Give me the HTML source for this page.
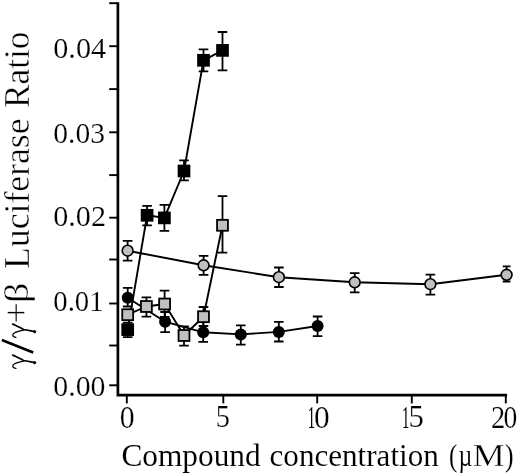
<!DOCTYPE html>
<html><head><meta charset="utf-8"><title>Chart</title>
<style>
html,body{margin:0;padding:0;background:#fff;}
body{width:520px;height:474px;position:relative;overflow:hidden;font-family:"Liberation Serif",serif;}
.t{font-family:"Liberation Serif",serif;fill:#000;font-kerning:none;stroke:#fff;stroke-width:0.45px;vector-effect:non-scaling-stroke;}
.a{stroke-width:0.1px;}
.n{stroke:none;}
.m{stroke-width:0.4px;}
.b{stroke-width:0.2px;}
svg{filter:grayscale(1) blur(0.35px);}
</style></head><body>
<svg width="520" height="474" viewBox="0 0 520 474" style="position:absolute;left:0;top:0">
<title>γ/γ+β Luciferase Ratio vs Compound concentration (µM)</title>
<rect width="520" height="474" fill="#fff"/>
<path d="M117.9 2.3V395.1H507.1" fill="none" stroke="#000" stroke-width="2.7" stroke-linejoin="miter"/>
<path d="M109.2 3.2H117.5" stroke="#000" stroke-width="1.9"/>
<path d="M109.2 46.2H117.5" stroke="#000" stroke-width="1.9"/>
<path d="M109.2 89.1H117.5" stroke="#000" stroke-width="1.9"/>
<path d="M109.2 132.3H117.5" stroke="#000" stroke-width="1.9"/>
<path d="M109.2 175.1H117.5" stroke="#000" stroke-width="1.9"/>
<path d="M109.2 217.7H117.5" stroke="#000" stroke-width="1.9"/>
<path d="M109.2 259.5H117.5" stroke="#000" stroke-width="1.9"/>
<path d="M109.2 303.5H117.5" stroke="#000" stroke-width="1.9"/>
<path d="M109.2 345.5H117.5" stroke="#000" stroke-width="1.9"/>
<path d="M109.2 385.3H117.5" stroke="#000" stroke-width="1.9"/>
<path d="M126.8 395V403.4" stroke="#000" stroke-width="1.9"/>
<path d="M223.3 395V403.4" stroke="#000" stroke-width="1.9"/>
<path d="M317.2 395V403.4" stroke="#000" stroke-width="1.9"/>
<path d="M411.8 395V403.4" stroke="#000" stroke-width="1.9"/>
<path d="M505.8 395V403.4" stroke="#000" stroke-width="1.9"/>
<text transform="matrix(0.94508 0 0 0.95241 53.248 58.168)" font-size="32" class="t b" >0.04</text>
<text transform="matrix(0.92283 0 0 0.95241 53.275 142.568)" font-size="32" class="t b" >0.03</text>
<text transform="matrix(0.94312 0 0 0.95241 53.251 226.268)" font-size="32" class="t b" >0.02</text>
<text transform="matrix(0.89861 0 0 0.95241 53.305 311.368)" font-size="32" class="t b" >0.01</text>
<text transform="matrix(0.93349 0 0 0.95241 53.262 395.768)" font-size="32" class="t b" >0.00</text>
<text transform="matrix(0.92903 0 0 0.95861 119.768 427.500)" font-size="32" class="t b" >0</text>
<text transform="matrix(0.88436 0 0 0.97340 215.856 427.496)" font-size="32" class="t b" >5</text>
<text transform="matrix(0.46158 0 0 0.97988 307.702 427.800)" font-size="32" class="t n" >1</text>
<text transform="matrix(0.98065 0 0 0.95861 314.105 427.500)" font-size="32" class="t b" >0</text>
<text transform="matrix(0.46158 0 0 0.97988 402.102 427.800)" font-size="32" class="t n" >1</text>
<text transform="matrix(0.96194 0 0 0.97340 408.511 427.496)" font-size="32" class="t b" >5</text>
<text transform="matrix(0.88867 0 0 0.97699 491.050 427.800)" font-size="32" class="t b" >2</text>
<text transform="matrix(0.86267 0 0 0.95861 503.549 427.500)" font-size="32" class="t b" >0</text>
<path d="M127.7 329.6 L147.1 215.3 L164.4 217.9 L184 171 L203.5 60.3 L222.5 50.4" fill="none" stroke="#000" stroke-width="1.9" stroke-linejoin="round"/>
<path d="M127.7 322.6V337.2M122.9 322.6h9.6M122.9 337.2h9.6" fill="none" stroke="#000" stroke-width="1.8"/>
<path d="M147.1 205.8V225.4M142.29999999999998 205.8h9.6M142.29999999999998 225.4h9.6" fill="none" stroke="#000" stroke-width="1.8"/>
<path d="M164.4 204.9V230.8M159.6 204.9h9.6M159.6 230.8h9.6" fill="none" stroke="#000" stroke-width="1.8"/>
<path d="M184 160.3V180.3M179.2 160.3h9.6M179.2 180.3h9.6" fill="none" stroke="#000" stroke-width="1.8"/>
<path d="M203.5 49.4V71.3M198.7 49.4h9.6M198.7 71.3h9.6" fill="none" stroke="#000" stroke-width="1.8"/>
<path d="M222.5 32V70.3M217.7 32h9.6M217.7 70.3h9.6" fill="none" stroke="#000" stroke-width="1.8"/>
<rect x="121.35" y="323.25" width="12.7" height="12.7" fill="#000"/>
<rect x="140.75" y="208.95" width="12.7" height="12.7" fill="#000"/>
<rect x="158.05" y="211.55" width="12.7" height="12.7" fill="#000"/>
<rect x="177.65" y="164.65" width="12.7" height="12.7" fill="#000"/>
<rect x="197.15" y="53.95" width="12.7" height="12.7" fill="#000"/>
<rect x="216.15" y="44.05" width="12.7" height="12.7" fill="#000"/>
<path d="M127.7 297.7 L165.1 321.7 L203.2 332.3 L240.8 334.4 L278.8 331.9 L317.6 326" fill="none" stroke="#000" stroke-width="1.9" stroke-linejoin="round"/>
<path d="M127.7 287.8V306.5M122.9 287.8h9.6M122.9 306.5h9.6" fill="none" stroke="#000" stroke-width="1.8"/>
<path d="M165.1 312V332.1M160.29999999999998 312h9.6M160.29999999999998 332.1h9.6" fill="none" stroke="#000" stroke-width="1.8"/>
<path d="M203.2 322V341.8M198.39999999999998 322h9.6M198.39999999999998 341.8h9.6" fill="none" stroke="#000" stroke-width="1.8"/>
<path d="M240.8 325.3V344.6M236.0 325.3h9.6M236.0 344.6h9.6" fill="none" stroke="#000" stroke-width="1.8"/>
<path d="M278.8 321.8V341.5M274.0 321.8h9.6M274.0 341.5h9.6" fill="none" stroke="#000" stroke-width="1.8"/>
<path d="M317.6 316.5V336.1M312.8 316.5h9.6M312.8 336.1h9.6" fill="none" stroke="#000" stroke-width="1.8"/>
<circle cx="127.7" cy="297.7" r="6" fill="#000"/>
<circle cx="165.1" cy="321.7" r="6" fill="#000"/>
<circle cx="203.2" cy="332.3" r="6" fill="#000"/>
<circle cx="240.8" cy="334.4" r="6" fill="#000"/>
<circle cx="278.8" cy="331.9" r="6" fill="#000"/>
<circle cx="317.6" cy="326" r="6" fill="#000"/>
<path d="M127.7 314.7 L146.4 306.5 L164.6 304 L184 335.5 L203.5 316.7 L222.5 225.3" fill="none" stroke="#000" stroke-width="1.9" stroke-linejoin="round"/>
<path d="M146.4 297.4V316.6M141.6 297.4h9.6M141.6 316.6h9.6" fill="none" stroke="#000" stroke-width="1.8"/>
<path d="M164.6 290.7V317M159.79999999999998 290.7h9.6M159.79999999999998 317h9.6" fill="none" stroke="#000" stroke-width="1.8"/>
<path d="M184 326.4V345.6M179.2 326.4h9.6M179.2 345.6h9.6" fill="none" stroke="#000" stroke-width="1.8"/>
<path d="M203.5 307V326M198.7 307h9.6M198.7 326h9.6" fill="none" stroke="#000" stroke-width="1.8"/>
<path d="M222.5 196.1V252.7M217.7 196.1h9.6M217.7 252.7h9.6" fill="none" stroke="#000" stroke-width="1.8"/>
<rect x="122.25" y="309.25" width="10.9" height="10.9" fill="#c0c0c0" stroke="#000" stroke-width="1.8"/>
<rect x="140.95" y="301.05" width="10.9" height="10.9" fill="#c0c0c0" stroke="#000" stroke-width="1.8"/>
<rect x="159.15" y="298.55" width="10.9" height="10.9" fill="#c0c0c0" stroke="#000" stroke-width="1.8"/>
<rect x="178.55" y="330.05" width="10.9" height="10.9" fill="#c0c0c0" stroke="#000" stroke-width="1.8"/>
<rect x="198.05" y="311.25" width="10.9" height="10.9" fill="#c0c0c0" stroke="#000" stroke-width="1.8"/>
<rect x="217.05" y="219.85" width="10.9" height="10.9" fill="#c0c0c0" stroke="#000" stroke-width="1.8"/>
<path d="M127.6 250.7 L203.6 265.3 L278.9 277.2 L354.7 282.3 L430.4 284.2 L506.6 274.8" fill="none" stroke="#000" stroke-width="1.9" stroke-linejoin="round"/>
<path d="M127.6 240.8V260.7M122.8 240.8h9.6M122.8 260.7h9.6" fill="none" stroke="#000" stroke-width="1.8"/>
<path d="M203.6 255.8V274.8M198.79999999999998 255.8h9.6M198.79999999999998 274.8h9.6" fill="none" stroke="#000" stroke-width="1.8"/>
<path d="M278.9 267.5V287M274.09999999999997 267.5h9.6M274.09999999999997 287h9.6" fill="none" stroke="#000" stroke-width="1.8"/>
<path d="M354.7 273.2V292.4M349.9 273.2h9.6M349.9 292.4h9.6" fill="none" stroke="#000" stroke-width="1.8"/>
<path d="M430.4 274.7V294.6M425.59999999999997 274.7h9.6M425.59999999999997 294.6h9.6" fill="none" stroke="#000" stroke-width="1.8"/>
<path d="M506.6 266.3V281.5M502.70000000000005 266.3h7.8M502.70000000000005 281.5h7.8" fill="none" stroke="#000" stroke-width="1.8"/>
<circle cx="127.6" cy="250.7" r="5.4" fill="#c0c0c0" stroke="#000" stroke-width="1.6"/>
<circle cx="203.6" cy="265.3" r="5.4" fill="#c0c0c0" stroke="#000" stroke-width="1.6"/>
<circle cx="278.9" cy="277.2" r="5.4" fill="#c0c0c0" stroke="#000" stroke-width="1.6"/>
<circle cx="354.7" cy="282.3" r="5.4" fill="#c0c0c0" stroke="#000" stroke-width="1.6"/>
<circle cx="430.4" cy="284.2" r="5.4" fill="#c0c0c0" stroke="#000" stroke-width="1.6"/>
<circle cx="506.6" cy="274.8" r="5.4" fill="#c0c0c0" stroke="#000" stroke-width="1.6"/>
<text transform="matrix(0.97985 0 0 0.97813 121.414 465.700)" font-size="32" class="t a" >Compound</text>
<text transform="matrix(0.97253 0 0 0.97813 269.515 465.700)" font-size="32" class="t a" >concentration</text>
<text transform="matrix(0.77871 0 0 0.97813 449.105 465.700)" font-size="32" class="t a" >(</text>
<text transform="matrix(0.75186 0 0 0.97813 458.425 465.700)" font-size="32" class="t a" >µ</text>
<text transform="matrix(1.13937 0 0 0.97813 472.550 465.700)" font-size="32" class="t m" >M</text>
<text transform="matrix(0.80304 0 0 0.97813 504.972 465.700)" font-size="32" class="t a" >)</text>
<g transform="translate(0,0)" fill="none" stroke="#000" stroke-linecap="round" stroke-linejoin="round"><path d="M12.7 355.1C15 355.8 20 358.6 23.6 360.5C27 361.3 31 361.9 35.2 362.7" stroke-width="1.7"/><circle cx="34.6" cy="362.7" r="1.1" fill="#000" stroke-width="1"/><path d="M24.5 360.8C20 361.6 16.5 362.6 14.3 364C12.3 365.4 12.4 366.8 13.6 367.5C14.3 368 15.2 368.3 15.9 368.4" stroke-width="1.3"/></g>
<path d="M33.2 352.6L1.8 340.1" stroke="#000" stroke-width="2.7"/>
<g transform="translate(0,-31)" fill="none" stroke="#000" stroke-linecap="round" stroke-linejoin="round"><path d="M12.7 355.1C15 355.8 20 358.6 23.6 360.5C27 361.3 31 361.9 35.2 362.7" stroke-width="1.7"/><circle cx="34.6" cy="362.7" r="1.1" fill="#000" stroke-width="1"/><path d="M24.5 360.8C20 361.6 16.5 362.6 14.3 364C12.3 365.4 12.4 366.8 13.6 367.5C14.3 368 15.2 368.3 15.9 368.4" stroke-width="1.3"/></g>
<text transform="matrix(0 -1.16852 1.13375 0 28.296 323.262)" font-size="32" class="t" >+</text>
<text transform="matrix(0 -1.25978 1.03600 0 28.342 303.098)" font-size="32" class="t" >β</text>
<text transform="matrix(0 -1.11592 1.13437 0 28.600 269.029)" font-size="32" class="t" >Luciferase</text>
<text transform="matrix(0 -1.10288 1.13437 0 28.600 107.917)" font-size="32" class="t" >Ratio</text>
</svg>
</body></html>
